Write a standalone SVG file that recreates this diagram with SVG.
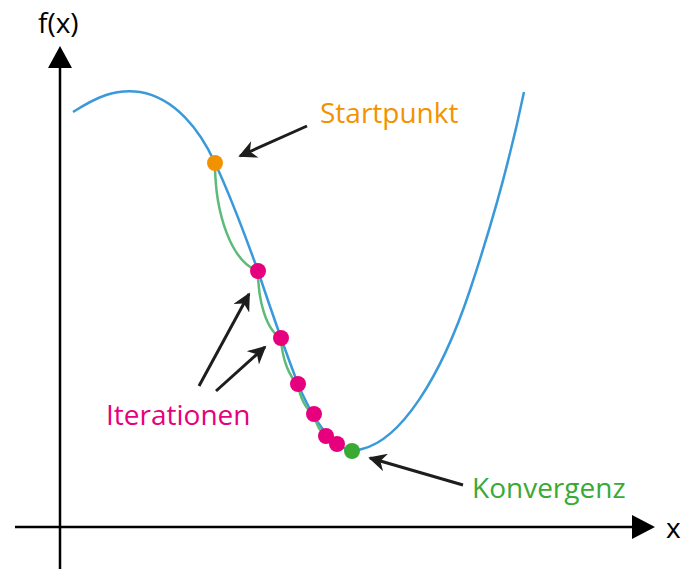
<svg xmlns="http://www.w3.org/2000/svg" width="681" height="569" viewBox="0 0 681 569">
<style>
.ax{stroke:#000;stroke-width:2.5;fill:none}
.blue{stroke:#3a9ad9;stroke-width:2.5;fill:none}
.it{stroke:#5dba78;stroke-width:2.5;fill:none}
.arr{stroke:#1d1d1b;stroke-width:3;fill:none;marker-end:url(#ah)}
.lbl{font-family:"Open Sans","Noto Sans",sans-serif;font-size:28px}
.pink{fill:#e6007e}
</style>
<defs>
<marker id="ah" viewBox="0 0 10 10" refX="9" refY="5" markerWidth="6.5" markerHeight="6" orient="auto" markerUnits="strokeWidth">
<path d="M0,0 L10,5 L0,10 L3,5 Z" fill="#1d1d1b"/>
</marker>
</defs>
<g id="axes">
<line class="ax" x1="60" y1="569" x2="60" y2="66"/>
<polygon points="60,46 48,68 72,68" fill="#000"/>
<line class="ax" x1="15" y1="527" x2="634" y2="527"/>
<polygon points="655,527 632,515 632,539" fill="#000"/>
<text x="38" y="33" font-family="'Open Sans','Noto Sans',sans-serif" font-size="28">f(x)</text>
<text x="666" y="538" font-family="'Open Sans','Noto Sans',sans-serif" font-size="28">x</text>
</g>
<g id="curve">
<path class="blue" d="M73,112 C95,98 115,88 140,92 C175,98 200,130 215,163 C230,195 245,235 258,271 C266,295 285,350 298,384 C308,408 322,432 337,444 C345,450 353,452 362,449 C400,440 440,380 470,290 C495,215 512,150 524,92"/>
</g>
<g id="connectors">
<path class="it" d="M215,163 C215,215 232,262 258,271"/>
<path class="it" d="M258,271 C258,300 266,330 281,338"/>
<path class="it" d="M281,338 C282,360 290,378 298,384"/>
<path class="it" d="M298,384 C300,398 306,410 314,414"/>
<path class="it" d="M314,414 C316,424 320,432 326,436"/>
<path class="arr" d="M307,126 L240,156"/>
<path class="arr" d="M199,386 L249,294"/>
<path class="arr" d="M216,391 L265,347"/>
<path class="arr" d="M463,485 L370,458"/>
</g>
<g id="start">
<circle cx="215" cy="163" r="8" fill="#f39200"/>
<text class="lbl" x="320" y="123" fill="#f39200">Startpunkt</text>
</g>
<g id="iterations">
<circle class="pink" cx="258" cy="271" r="8"/>
<circle class="pink" cx="281" cy="338" r="8"/>
<circle class="pink" cx="298" cy="384" r="8"/>
<circle class="pink" cx="314" cy="414" r="8"/>
<circle class="pink" cx="326" cy="436" r="8"/>
<circle class="pink" cx="337" cy="444" r="8"/>
<text class="lbl pink" x="106" y="425">Iterationen</text>
</g>
<g id="convergence">
<circle cx="352" cy="451" r="8" fill="#3aaa35"/>
<text class="lbl" x="472" y="498" fill="#3aaa35">Konvergenz</text>
</g>
</svg>
